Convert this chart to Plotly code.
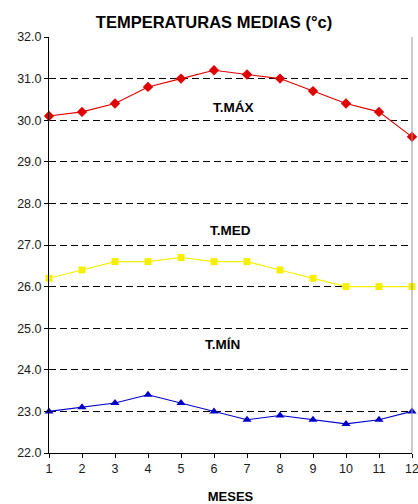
import plotly.graph_objects as go

meses = list(range(1, 13))
t_max = [30.1, 30.2, 30.4, 30.8, 31.0, 31.2, 31.1, 31.0, 30.7, 30.4, 30.2, 29.6]
t_med = [26.2, 26.4, 26.6, 26.6, 26.7, 26.6, 26.6, 26.4, 26.2, 26.0, 26.0, 26.0]
t_min = [23.0, 23.1, 23.2, 23.4, 23.2, 23.0, 22.8, 22.9, 22.8, 22.7, 22.8, 23.0]

series_labels = ["T.MÁX", "T.MED", "T.MÍN"]
label_x = [6.6, 6.5, 6.25]
label_y = [30.3, 27.35, 24.6]

y_ticks = [22, 23, 24, 25, 26, 27, 28, 29, 30, 31, 32]
grid_vals = y_ticks[1:-1]

FONT = "Arial, Liberation Sans, sans-serif"

fig = go.Figure()
fig.add_trace(go.Scatter(x=meses, y=t_max, mode="lines+markers",
                         line=dict(color="#e00000", width=1.1),
                         marker=dict(symbol="diamond", size=8, color="#e00000"),
                         cliponaxis=False))
fig.add_trace(go.Scatter(x=meses, y=t_med, mode="lines+markers",
                         line=dict(color="#f5f000", width=1.1),
                         marker=dict(symbol="square", size=7, color="#f5f000"),
                         cliponaxis=False))
fig.add_trace(go.Scatter(x=meses, y=t_min, mode="lines+markers",
                         line=dict(color="#0000c8", width=1.1),
                         marker=dict(symbol="triangle-up", size=8, color="#0000c8"),
                         cliponaxis=False))

for txt, xv, yv in zip(series_labels, label_x, label_y):
    fig.add_annotation(x=xv, y=yv, text=f"<b>{txt}</b>", showarrow=False,
                       font=dict(family=FONT, size=13.5, color="black"))

fig.update_layout(
    width=418, height=504,
    margin=dict(l=49, r=6, t=37, b=51),
    paper_bgcolor="white", plot_bgcolor="white",
    showlegend=False,
    title=dict(text="<b>TEMPERATURAS MEDIAS (°c)</b>", x=0.512, xanchor="center",
               y=0.956, yanchor="middle",
               font=dict(family=FONT, size=16.5, color="black")),
    font=dict(family=FONT, size=12.5, color="#1a1a1a"),
)
fig.update_xaxes(range=[1, 12], tickvals=meses, automargin=False,
                 showgrid=False, showline=True, linecolor="black", linewidth=1,
                 ticks="outside", ticklen=4, tickcolor="black",
                 ticklabeloverflow="allow", zeroline=False,
                 title=dict(text="<b>MESES</b>", standoff=16,
                            font=dict(family=FONT, size=13, color="black")))
fig.update_yaxes(range=[22, 32], tickvals=y_ticks, tickformat=".1f",
                 automargin=False, showgrid=False,
                 minor=dict(tickvals=grid_vals, showgrid=True, gridcolor="black",
                            griddash="7px,4px", gridwidth=1, ticks=""),
                 showline=True, linecolor="black", linewidth=1,
                 ticks="outside", ticklen=4, tickcolor="black", zeroline=False)

# light right border of the plot area
fig.add_shape(type="line", xref="paper", yref="paper", x0=1, x1=1, y0=0, y1=1,
              line=dict(color="#999", width=1))

fig.write_html("out.html")
